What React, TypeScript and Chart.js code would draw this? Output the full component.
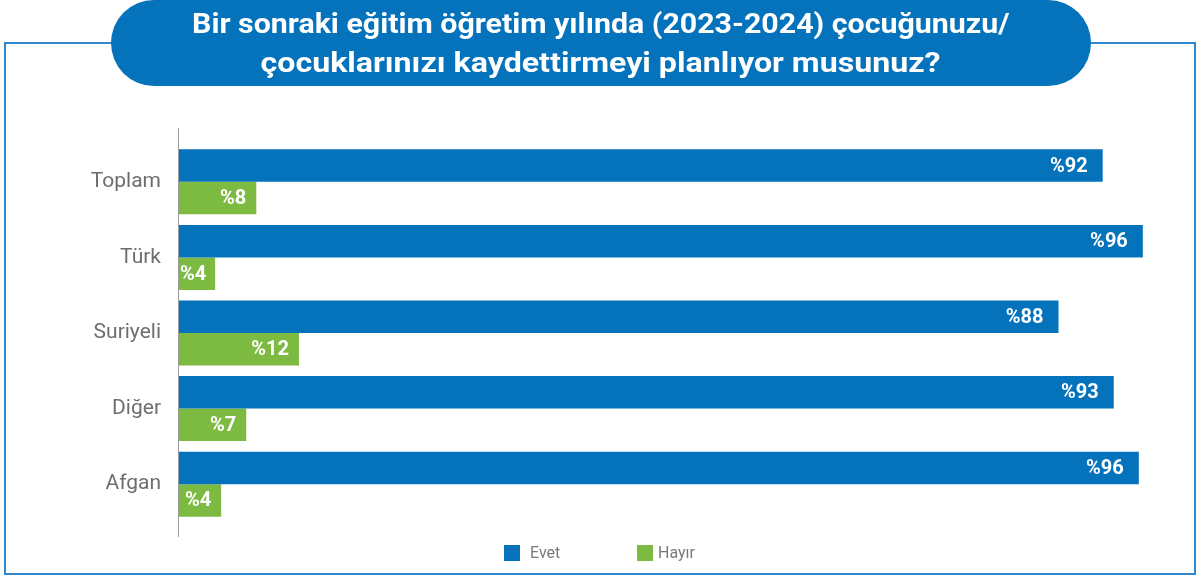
import React, { useEffect, useRef, useState } from "react";
import { Chart, registerables } from "chart.js";

Chart.register(...registerables);

const titleLines = [
  "Bir sonraki eğitim öğretim yılında (2023-2024) çocuğunuzu/",
  "çocuklarınızı kaydettirmeyi planlıyor musunuz?",
];
const categories = ["Toplam", "Türk", "Suriyeli", "Diğer", "Afgan"];
const seriesNames = ["Evet", "Hayır"];
const evetValues = [92.0, 96.0, 87.6, 93.1, 95.6];
const hayirValues = [7.7, 3.6, 11.95, 6.7, 4.2];

const BLUE = "#0572BC";
const GREEN = "#7DBA42";

const dataLabelPlugin = {
  id: "dataLabelsCustom",
  afterDatasetsDraw(chart: any) {
    const ctx = chart.ctx;
    ctx.save();
    ctx.font = "bold 20px Roboto";
    ctx.fillStyle = "#ffffff";
    ctx.textAlign = "right";
    ctx.textBaseline = "middle";
    chart.data.datasets.forEach((ds: any, di: number) => {
      const meta = chart.getDatasetMeta(di);
      const pad = di === 0 ? 15 : 10;
      meta.data.forEach((bar: any, i: number) => {
        const text = "%" + Math.round(ds.data[i]);
        const w = ctx.measureText(text).width;
        let x = bar.x - pad;
        const left = bar.base + 1;
        if (x - w < left) x = left + w;
        ctx.fillText(text, x, bar.y + 1);
      });
    });
    ctx.restore();
  },
};

const axisLinePlugin = {
  id: "axisLineCustom",
  beforeDatasetsDraw(chart: any) {
    const ctx = chart.ctx;
    const xs = chart.scales.x;
    const x0 = Math.round(xs.getPixelForValue(0)) - 0.5;
    const { top, bottom } = chart.chartArea;
    ctx.save();
    ctx.strokeStyle = "#9a9a9a";
    ctx.lineWidth = 1;
    ctx.beginPath();
    ctx.moveTo(x0, top - 16);
    ctx.lineTo(x0, bottom + 15);
    ctx.stroke();
    ctx.restore();
  },
};

const legendPlugin = {
  id: "legendCustom",
  afterDraw(chart: any) {
    const ctx = chart.ctx;
    const positions = [504, 637];
    const y = 545;
    ctx.save();
    ctx.font = "16px Roboto";
    ctx.textBaseline = "middle";
    ctx.textAlign = "left";
    chart.data.datasets.forEach((ds: any, i: number) => {
      const x = positions[i];
      ctx.fillStyle = ds.backgroundColor;
      ctx.fillRect(x, y, 16, 16);
      ctx.fillStyle = "#7a7a7a";
      ctx.fillText(ds.label, x + (i === 0 ? 26 : 21), y + 8.5);
    });
    ctx.restore();
  },
};

export default function App() {
  const canvasRef = useRef<HTMLCanvasElement | null>(null);
  const spanRefs = [useRef<HTMLSpanElement | null>(null), useRef<HTMLSpanElement | null>(null)];
  const [scales, setScales] = useState<number[]>([1, 1]);

  useEffect(() => {
    const targets = [818, 680];
    const s = spanRefs.map((r, i) => {
      const w = r.current ? r.current.offsetWidth : targets[i];
      return w > 0 ? targets[i] / w : 1;
    });
    setScales(s);
  }, []);

  useEffect(() => {
    if (!canvasRef.current) return;
    const chart = new Chart(canvasRef.current, {
      type: "bar",
      data: {
        labels: categories,
        datasets: [
          {
            label: seriesNames[0],
            data: evetValues,
            backgroundColor: BLUE,
            borderWidth: 0,
            barPercentage: 1,
            categoryPercentage: 0.86,
          },
          {
            label: seriesNames[1],
            data: hayirValues,
            backgroundColor: GREEN,
            borderWidth: 0,
            barPercentage: 1,
            categoryPercentage: 0.86,
          },
        ],
      },
      options: {
        indexAxis: "y",
        animation: false,
        responsive: false,
        maintainAspectRatio: false,
        layout: { padding: { top: 144, bottom: 54, right: 16, left: 0 } },
        plugins: {
          legend: { display: false },
          tooltip: { enabled: false },
          title: { display: false },
        },
        scales: {
          x: { display: false, min: 0, max: 100 },
          y: {
            grid: { display: false },
            border: { display: false },
            ticks: {
              color: "#6e6e6e",
              font: { family: "Roboto", size: 21 },
              padding: 10,
            },
            afterFit(scale: any) {
              scale.width = 179;
            },
          },
        },
      },
      plugins: [axisLinePlugin, dataLabelPlugin, legendPlugin],
    });
    return () => chart.destroy();
  }, []);

  return (
    <div
      style={{
        position: "fixed",
        left: 0,
        top: 0,
        width: 1199,
        height: 576,
        background: "#ffffff",
        overflow: "hidden",
      }}
    >
      <div
        style={{
          position: "absolute",
          left: 4,
          top: 42,
          width: 1192 - 4,
          height: 573 - 42 - 2,
          border: "2px solid #2F88D0",
          boxSizing: "content-box",
        }}
      />
      <canvas
        ref={canvasRef}
        width={1199}
        height={576}
        style={{ position: "absolute", left: 0, top: 0 }}
      />
      <div
        style={{
          position: "absolute",
          left: 111,
          top: 0,
          width: 980,
          height: 86,
          borderRadius: 43,
          background: BLUE,
          color: "#ffffff",
          fontFamily: "Roboto",
          fontWeight: 700,
          fontSize: 27,
        }}
      >
        {titleLines.map((line, i) => (
          <div
            key={i}
            style={{
              position: "absolute",
              left: 0,
              width: 980,
              top: i === 0 ? 6 : 45,
              height: 36,
              lineHeight: "36px",
              textAlign: "center",
              whiteSpace: "nowrap",
            }}
          >
            <span
              ref={spanRefs[i]}
              style={{
                display: "inline-block",
                transform: `scaleX(${scales[i]})`,
                transformOrigin: "center",
              }}
            >
              {line}
            </span>
          </div>
        ))}
      </div>
    </div>
  );
}
